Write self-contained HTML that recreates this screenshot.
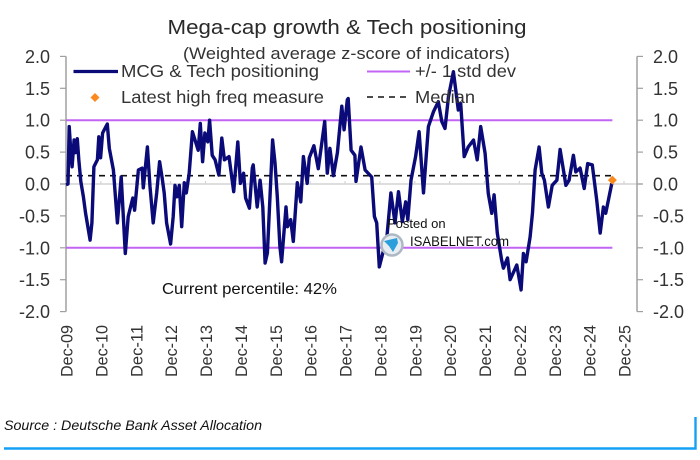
<!DOCTYPE html>
<html lang="en">
<head>
<meta charset="utf-8">
<title>Mega-cap growth &amp; Tech positioning</title>
<style>
html,body{margin:0;padding:0;background:#fff;}
body{width:700px;height:460px;overflow:hidden;}
svg{display:block;font-family:"Liberation Sans",sans-serif;}
</style>
</head>
<body>
<svg id="chart" xmlns="http://www.w3.org/2000/svg" width="700" height="460" viewBox="0 0 700 460">
  <rect width="700" height="460" fill="#fff"/>
  <text x="347" y="34" font-size="20.6" text-anchor="middle" fill="#2a2a2a" textLength="359" lengthAdjust="spacingAndGlyphs">Mega-cap growth &amp; Tech positioning</text>
  <text x="346.5" y="59" font-size="16.4" text-anchor="middle" fill="#333" textLength="327" lengthAdjust="spacingAndGlyphs">(Weighted average z-score of indicators)</text>
  <g id="axes"></g>
  <g id="marks"></g>
  <g font-size="17.6" fill="#333">
    <line x1="73.5" y1="71.5" x2="118" y2="71.5" stroke="#0a0a78" stroke-width="3.2"/>
    <text x="121" y="77" textLength="198" lengthAdjust="spacingAndGlyphs">MCG &amp; Tech positioning</text>
    <polygon points="95,93 99.5,97.5 95,102 90.5,97.5" fill="#fb8a1e"/>
    <text x="121" y="103" textLength="203" lengthAdjust="spacingAndGlyphs">Latest high freq measure</text>
    <line x1="367" y1="71.5" x2="410" y2="71.5" stroke="#c264f4" stroke-width="2"/>
    <text x="415" y="77" textLength="101" lengthAdjust="spacingAndGlyphs">+/- 1 std dev</text>
    <line x1="367" y1="97" x2="408" y2="97" stroke="#111" stroke-width="1.5" stroke-dasharray="6 5"/>
    <text x="415" y="103" textLength="60" lengthAdjust="spacingAndGlyphs">Median</text>
  </g>
  <text x="162" y="294" font-size="15.6" fill="#111" textLength="175" lengthAdjust="spacingAndGlyphs">Current percentile: 42%</text>
  <g>
    <text x="387" y="228" font-size="13" fill="#111">Posted on</text>
    <circle cx="392" cy="245" r="10.5" fill="#e8edf2" stroke="#aeb8c4" stroke-width="2.5"/>
    <path d="M384 241 L397 238 L398 243 L393 252 L389 246 Z" fill="#2a9fdc"/>
    <text x="410" y="246" font-size="14" fill="#111" textLength="99" lengthAdjust="spacingAndGlyphs">ISABELNET.com</text>
  </g>
  <text x="4" y="430" font-size="14" font-style="italic" fill="#111" textLength="258" lengthAdjust="spacingAndGlyphs">Source : Deutsche Bank Asset Allocation</text>
  <path d="M4 448.5 H695.5 V417" fill="none" stroke="#14a0f5" stroke-width="2.4"/>
</svg>
<script>
var yTickValues = [2, 1.5, 1, 0.5, 0, -0.5, -1, -1.5, -2];
var xTickLabels = ["Dec-09","Dec-10","Dec-11","Dec-12","Dec-13","Dec-14","Dec-15","Dec-16","Dec-17","Dec-18","Dec-19","Dec-20","Dec-21","Dec-22","Dec-23","Dec-24","Dec-25"];
var monthsSinceStart = [0,0.7,1.1,1.7,2.1,2.8,3.2,3.9,4.4,5.1,6,6.7,8.3,8.9,9.6,10.8,11.3,11.9,12.6,14.2,14.9,16.3,17.7,19,20.4,21.4,23,23.6,24.9,26.2,26.6,28,28.9,30,31.2,32.2,33.1,33.8,34.6,36,36.9,37.5,38.2,39,39.8,40.7,41.4,42.4,43.5,44.6,45.5,46.2,47,47.8,48.8,49.4,50.3,51.3,52.6,53.6,54.5,56.1,57.7,59.1,60,61.1,61.8,63.1,64.1,64.4,65.8,66.8,67.7,68.5,69.3,71.1,71.9,72.7,73.6,74.2,75.7,76.2,77.3,78.2,79.6,80.8,81.7,83,83.7,85.3,86.8,89,89.9,90.8,92,93.4,94.9,95.7,96.8,97.1,98.1,99.4,99.8,101.5,102.9,105.2,106.1,106.9,107.8,110.4,111.8,113.2,114.4,115.7,116.9,117.6,118.7,120.3,121.5,123,124.7,126.4,128.1,129.3,130.4,131.6,133.3,135,135.8,137,138.4,140.2,141.5,142.7,144.2,145.3,146.5,147.3,148.4,149.9,150.5,151.9,152.8,155.1,156.6,157.4,158.3,159.7,160.5,161.4,162.8,163.7,164.6,166,167.3,168.9,170,172,173.1,174.6,175.4,176.9,178.3,179.5,181.1,182.6,183.8,184.9,185.7,187.8];
var positioningValues = [-0.01,0,0.9,0.49,0.27,0.69,0.49,0.71,0.38,0.04,-0.2,-0.45,-0.88,-0.61,0.27,0.38,0.74,0.41,0.8,0.94,0.56,0.22,-0.61,0.11,-1.09,-0.51,-0.22,-0.41,0.22,0.25,-0.06,0.58,-0.04,-0.61,-0.14,0.35,0.09,-0.14,-0.61,-0.94,-0.51,-0.02,-0.2,-0.02,-0.67,0.02,-0.14,0.17,0.82,0.66,0.53,0.95,0.35,0.8,0.66,1,0.45,0.38,0.14,0.72,0.38,0.43,-0.12,0.66,0.01,0.17,-0.22,-0.38,0.25,0.3,-0.36,0.06,-0.36,-1.24,-1.08,0.69,0.33,-0.2,-0.98,-1.22,-0.36,-0.67,-0.56,-0.9,0.02,-0.28,0.43,0.01,0.41,0.6,0.24,0.98,0.17,0.56,0.13,0.49,1.22,0.85,1.32,1.34,0.53,0.45,0.04,0.58,0.22,0.11,-0.51,-0.61,-1.3,-0.83,-0.14,-0.61,-0.12,-0.59,-0.28,-0.56,0.06,0.43,0.82,-0.14,0.9,1.13,1.29,0.98,0.87,1.37,1.76,1.16,1.26,0.43,0.58,0.69,0.38,0.9,0.48,-0.15,-0.46,-0.17,-0.77,-1.19,-1.32,-1.16,-1.5,-1.27,-1.66,-1.09,-1.22,-0.83,-0.45,0.22,0.58,0.17,0.06,-0.36,-0.02,0.06,0.54,-0.02,0.06,0.45,0.19,0.25,-0.07,0.32,0.3,-0.25,-0.77,-0.36,-0.46,0.01];
var stdDevLevels = [1, -1];
var medianLevel = 0.13;
var latestMonth = 188;
var latestValue = 0.06;

var SVG_NS = "http://www.w3.org/2000/svg";
var axesLayer = document.getElementById("axes");
var marksLayer = document.getElementById("marks");
var plotLeft = 66, plotRight = 637, monthWidth = 34.875 / 12;
var zeroY = 184, unitHeight = 63.8;
function xScale(month) { return plotLeft + month * monthWidth; }
function yScale(value) { return zeroY - value * unitHeight; }
function make(tag, attrs, parent) {
  var el = document.createElementNS(SVG_NS, tag);
  for (var key in attrs) el.setAttribute(key, attrs[key]);
  parent.appendChild(el);
  return el;
}
var lastX = xScale(latestMonth);

var zeroLine = make("line", {x1: 60, x2: plotRight + 5, y1: zeroY, y2: zeroY, stroke: "#d4d4d4", "stroke-width": 1.5}, axesLayer);



var leftAxis = make("line", {x1: plotLeft, x2: plotLeft, y1: yScale(2), y2: yScale(-2), stroke: "#a0a0a0", "stroke-width": 1.5}, axesLayer);



var rightAxis = make("line", {x1: plotRight, x2: plotRight, y1: yScale(2), y2: yScale(-2), stroke: "#a0a0a0", "stroke-width": 1.5}, axesLayer);



yTickValues.forEach(function (value) {
  var y = yScale(value);
  var label = value.toFixed(1);
  var leftTick = make("line", {x1: plotLeft - 6, x2: plotLeft, y1: y, y2: y, stroke: "#a0a0a0", "stroke-width": 1.2}, axesLayer);
  
  
  var rightTick = make("line", {x1: plotRight, x2: plotRight + 6, y1: y, y2: y, stroke: "#a0a0a0", "stroke-width": 1.2}, axesLayer);
  
  
  var leftLabel = make("text", {x: 50, y: y + 6.5, "font-size": 18, "text-anchor": "end", fill: "#333"}, axesLayer);
  
  
  leftLabel.textContent = label;
  var rightLabel = make("text", {x: 653, y: y + 6.5, "font-size": 18, fill: "#333"}, axesLayer);
  
  
  rightLabel.textContent = label;
});

xTickLabels.forEach(function (label, i) {
  var x = xScale(i * 12);
  var tick = make("line", {x1: x, x2: x, y1: zeroY - 3, y2: zeroY, stroke: "#d4d4d4", "stroke-width": 1.2}, axesLayer);
  
  
  var text = make("text", {x: 0, y: 0, "font-size": 16.5, "text-anchor": "end", fill: "#333", textLength: 52, lengthAdjust: "spacingAndGlyphs", transform: "translate(" + (x + 6.5) + ",325) rotate(-90)"}, axesLayer);
  
  
  text.textContent = label;
});

stdDevLevels.forEach(function (level) {
  var band = make("line", {x1: plotLeft, x2: lastX, y1: yScale(level), y2: yScale(level), stroke: "#c264f4", "stroke-width": 2}, marksLayer);
  
  
});

var medianLine = make("line", {x1: plotLeft, x2: lastX, y1: yScale(medianLevel), y2: yScale(medianLevel), stroke: "#111", "stroke-width": 1.6, "stroke-dasharray": "6 5"}, marksLayer);



var pointList = monthsSinceStart.map(function (month, i) {
  return xScale(month).toFixed(1) + "," + yScale(positioningValues[i]).toFixed(1);
}).join(" ");
var seriesLine = make("polyline", {points: pointList, fill: "none", stroke: "#0a0a78", "stroke-width": 3.4, "stroke-linejoin": "round"}, marksLayer);



var lx = xScale(latestMonth), ly = yScale(latestValue);
var latestMarker = make("polygon", {points: lx + "," + (ly - 4.5) + " " + (lx + 4.5) + "," + ly + " " + lx + "," + (ly + 4.5) + " " + (lx - 4.5) + "," + ly, fill: "#fb8a1e"}, marksLayer);


</script>
</body>
</html>
